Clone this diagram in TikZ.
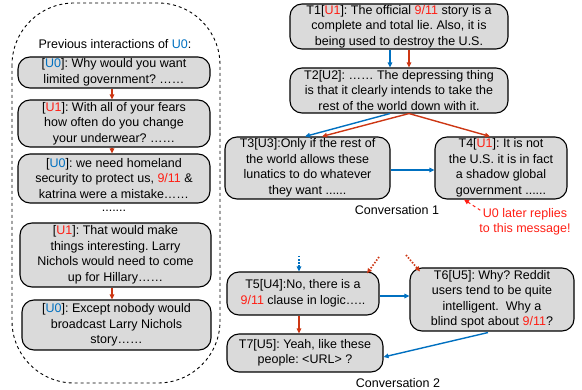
\documentclass[tikz,border=0pt]{standalone}
\usepackage{fontspec}
\setmainfont{Liberation Sans}
\usetikzlibrary{arrows.meta}
\definecolor{ublue}{RGB}{0,112,192}
\definecolor{ured}{RGB}{255,30,20}
\definecolor{ared}{RGB}{205,55,20}
\definecolor{boxgray}{RGB}{218,218,218}
\newcommand{\ub}[1]{\textcolor{ublue}{#1}}
\newcommand{\ur}[1]{\textcolor{ured}{#1}}
\frenchspacing
\begin{document}
\begin{tikzpicture}[x=1pt,y=-1pt,
  msg/.style={draw=black,line width=1.1pt,fill=boxgray,rounded corners=12pt,
    align=center,inner sep=0pt,font=\fontsize{12.5}{15.5}\selectfont},
  lbl/.style={inner sep=0pt,align=center,font=\fontsize{12.5}{15.5}\selectfont},
  conn/.style={line width=1.4pt,-{Triangle[length=5pt,width=4.5pt]}},
  bconn/.style={conn,draw=ublue},
  rconn/.style={conn,draw=ared},
  dconn/.style={line width=1.7pt,dash pattern=on 1.5pt off 1.6pt,-{Triangle[length=5pt,width=4.5pt]}},
]
\useasboundingbox (0,0) rectangle (582,390);

% container
\draw[dashed,line width=0.9pt,rounded corners=62pt] (12,3) rectangle (220,383);
\node[lbl] (ptitle) at (115,44) {Previous interactions of \ub{U0}:};

\node[msg,minimum width=192pt,minimum height=31pt] (L1) at (114,72.5)
  {[\ub{U0}]: Why would you want\\limited government? ……};
\node[msg,minimum width=192pt,minimum height=47pt] (L2) at (114,123.5)
  {[\ur{U1}]: With all of your fears\\how often do you change\\your underwear? ……};
\node[msg,minimum width=192pt,minimum height=49pt] (L3) at (114,178.5)
  {[\ub{U0}]: we need homeland\\security to protect us, \ur{9/11} \&\\katrina were a mistake……};
\node[lbl] (ldots) at (114,211) {.......};
\node[msg,minimum width=191pt,minimum height=64pt] (L4) at (115.5,255)
  {[\ur{U1}]: That would make\\things interesting. Larry\\Nichols would need to come\\up for Hillary……};
\node[msg,minimum width=189pt,minimum height=50pt] (L5) at (116.5,325)
  {[\ub{U0}]: Except nobody would\\broadcast Larry Nichols\\story……};

\draw[rconn] ([xshift=-2pt]L1.south) -- ([xshift=-2pt]L2.north);
\draw[rconn] ([xshift=-2pt]L2.south) -- ([xshift=-2pt]L3.north);
\draw[rconn] ([xshift=-3.5pt]L4.south) -- ([xshift=-4.5pt]L5.north);

% conversation 1
\node[msg,minimum width=218pt,minimum height=45pt] (T1) at (399,26.5)
  {T1[\ur{U1}]: The official \ur{9/11} story is a\\complete and total lie. Also, it is\\being used to destroy the U.S.};
\node[msg,minimum width=218pt,minimum height=45pt] (T2) at (399,90.5)
  {T2[U2]: …… The depressing thing\\is that it clearly intends to take the\\rest of the world down with it.};
\node[msg,minimum width=165pt,minimum height=62pt] (T3) at (307.5,168)
  {T3[U3]:Only if the rest of\\the world allows these\\lunatics to do whatever\\they want ......};
\node[msg,minimum width=132pt,minimum height=62pt] (T4) at (501,168)
  {T4[\ur{U1}]: It is not\\the U.S. it is in fact\\a shadow global\\government ......};
\node[lbl] (c1) at (397,210) {Conversation 1};
\node[lbl,text=ured] (ann) at (525,222) {U0 later replies\\to this message!};

\draw[bconn] ([xshift=-9pt]T1.south) -- ([xshift=-9pt]T2.north);
\draw[rconn] ([xshift=10pt]T1.south) -- ([xshift=10pt]T2.north);
\draw[bconn] ([xshift=-9pt]T2.south) -- ([xshift=-2.5pt]T3.north);
\draw[rconn] ([xshift=10pt]T2.south) -- ([xshift=14.5pt]T3.north);
\draw[rconn] ([xshift=10pt]T2.south) -- ([xshift=-11pt]T4.north);
\draw[bconn] ([yshift=-2pt]T3.east) -- ([yshift=-2pt]T4.west);
\draw[conn,draw=ured,dashed,line width=1pt] ([xshift=1pt,yshift=-2pt]ann.north west) -- ([xshift=-37pt]T4.south);

% conversation 2
\node[msg,minimum width=152pt,minimum height=43pt] (T5) at (303,293.5)
  {T5[U4]:No, there is a\\\ur{9/11} clause in logic…..};
\node[msg,minimum width=164pt,minimum height=63pt] (T6) at (492,299.5)
  {T6[U5]: Why? Reddit\\users tend to be quite\\intelligent.\ \ Why a\\blind spot about \ur{9/11}?};
\node[msg,minimum width=156pt,minimum height=38pt] (T7) at (305,353)
  {T7[U5]: Yeah, like these\\people: <URL> ?};
\node[lbl] (c2) at (398,383) {Conversation 2};

\coordinate (inb) at (299,256);
\coordinate (inr1) at (379,257);
\coordinate (inr2) at (406,255);
\draw[dconn,draw=ublue] (inb) -- ([xshift=-4pt]T5.north);
\draw[dconn,draw=ared] (inr1) -- ([xshift=64pt,yshift=-2pt]T5.north);
\draw[dconn,draw=ared] (inr2) -- ([xshift=-72pt,yshift=-4pt]T6.north);
\draw[bconn] ([yshift=-2.5pt]T5.east) -- ([yshift=-2.5pt]T5.east -| T6.west);
\draw[rconn] ([xshift=-4pt]T5.south) -- ([xshift=-4pt]T5.south |- T7.north);
\draw[bconn] ([xshift=-4pt,yshift=-1pt]T6.south) -- ([yshift=-4pt]T7.east);
\end{tikzpicture}
\end{document}
